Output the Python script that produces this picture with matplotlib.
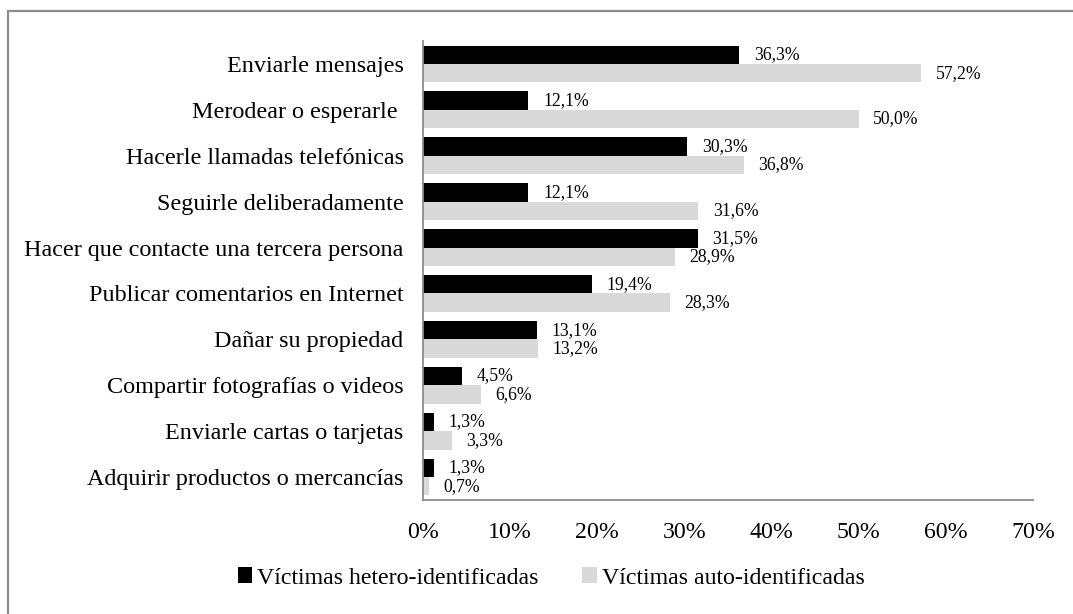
import matplotlib.pyplot as plt
from matplotlib.patches import Rectangle

# data
categorias = ['Enviarle mensajes', 'Merodear o esperarle ', 'Hacerle llamadas telefónicas',
              'Seguirle deliberadamente', 'Hacer que contacte una tercera persona',
              'Publicar comentarios en Internet', 'Dañar su propiedad',
              'Compartir fotografías o videos', 'Enviarle cartas o tarjetas',
              'Adquirir productos o mercancías']
hetero = [36.3, 12.1, 30.3, 12.1, 31.5, 19.4, 13.1, 4.5, 1.3, 1.3]
auto = [57.2, 50.0, 36.8, 31.6, 28.9, 28.3, 13.2, 6.6, 3.3, 0.7]
xticks = [0, 10, 20, 30, 40, 50, 60, 70]

plt.rcParams['font.family'] = ['Liberation Serif', 'DejaVu Serif']

fig = plt.figure(figsize=(10.73, 6.14), dpi=100)
ax = fig.add_axes([423 / 1073, 1 - 500 / 614, 610 / 1073, 459 / 614])

pos = list(range(len(categorias)))
h = 0.4
b1 = ax.barh([p - h / 2 for p in pos], hetero, height=h, color='black',
             label='Víctimas hetero-identificadas')
b2 = ax.barh([p + h / 2 for p in pos], auto, height=h, color='#d9d9d9',
             label='Víctimas auto-identificadas')

for bars, vals in ((b1, hetero), (b2, auto)):
    for rect, v in zip(bars, vals):
        ax.annotate('{:.1f}%'.format(v).replace('.', ','),
                    (rect.get_width(), rect.get_y() + rect.get_height() / 2),
                    xytext=(10.5, 0), textcoords='offset points',
                    ha='left', va='center', fontsize=12.7)

ax.set_ylim(len(categorias) - 0.5, -0.5)
ax.set_xlim(0, 70)
ax.set_yticks(pos)
ax.set_yticklabels(categorias, fontsize=17.4)
ax.set_xticks(xticks)
ax.set_xticklabels(['{}%'.format(t) for t in xticks], fontsize=17.2)
ax.tick_params(length=0)
ax.tick_params(axis='x', pad=16)
ax.tick_params(axis='y', pad=14)
for s in ('top', 'right'):
    ax.spines[s].set_visible(False)
for s in ('left', 'bottom'):
    ax.spines[s].set_color('#8c8c8c')
    ax.spines[s].set_linewidth(1.3)

fig.legend(handles=[b1, b2], loc='center', bbox_to_anchor=(0.5135, 1 - 578 / 614),
           ncol=2, frameon=False, fontsize=17.2, handlelength=0.6, handleheight=0.6,
           handletextpad=0.2, columnspacing=1.85)

# outer frame
fig.patches.append(Rectangle((8 / 1073, -0.1), 1.2, 1.1 - 11 / 614,
                             transform=fig.transFigure, fill=False,
                             edgecolor='#8c8c8c', linewidth=1.6))

fig.savefig('out.png', dpi=100)
